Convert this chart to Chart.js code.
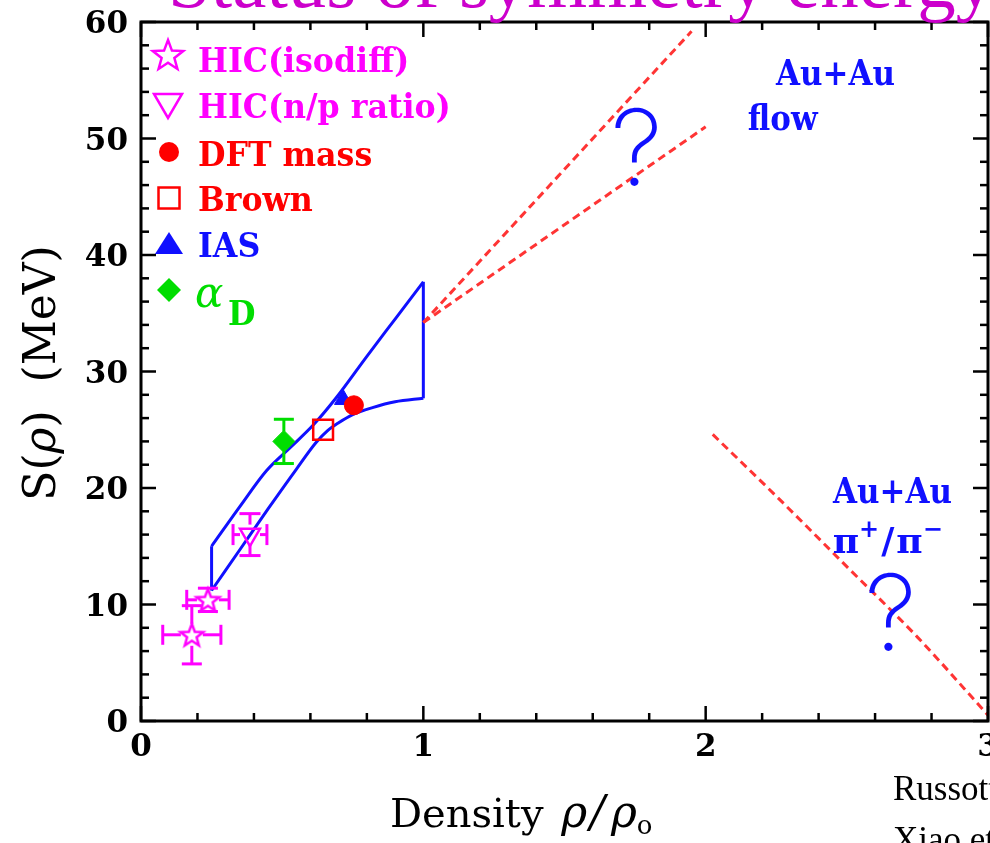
<!DOCTYPE html>
<html>
<head>
<meta charset="utf-8">
<script src="https://cdn.jsdelivr.net/npm/chart.js@4.4.1/dist/chart.umd.min.js"></script>
<style>
  html, body { margin: 0; padding: 0; background: #fff; }
  #wrap { width: 990px; height: 843px; overflow: hidden; }
  canvas { display: block; }
</style>
</head>
<body>
<div id="wrap"><canvas id="chart" width="990" height="843"></canvas></div>
<script>
// ---- Symmetry energy S(rho) constraints ----

// HIC (isospin diffusion)
const isodiffX = [0.18, 0.237];
const isodiffY = [7.4, 10.4];
const isodiffXErr = [0.103, 0.075];
const isodiffYErr = [2.5, 1.0];

// HIC (n/p ratio)
const npRatioX = [0.386];
const npRatioY = [16.0];
const npRatioXErr = [0.06];
const npRatioYErr = [1.8];

// nuclear masses / structure
const dftX = [0.754];
const dftY = [27.1];
const brownX = [0.645];
const brownY = [25.0];
const iasX = [0.716];
const iasY = [27.6];
const alphaDX = [0.506];
const alphaDY = [24.0];
const alphaDYErr = [1.9];

// combined constraint band (upper and lower boundaries)
const bandUpperX = [0.25, 0.35, 0.445, 0.53, 0.61, 0.69, 0.80, 0.90, 1.0];
const bandUpperY = [15.0, 18.4, 21.5, 23.5, 25.4, 27.7, 31.3, 34.5, 37.7];
const bandLowerX = [0.25, 0.35, 0.45, 0.55, 0.62, 0.66, 0.70, 0.75, 0.82, 0.90, 1.0];
const bandLowerY = [11.2, 14.7, 18.2, 21.6, 23.9, 24.9, 25.6, 26.3, 26.9, 27.4, 27.7];

// Au+Au flow extrapolations
const flowUpperX = [1.0, 1.95];
const flowUpperY = [34.2, 59.2];
const flowLowerX = [1.0, 2.0];
const flowLowerY = [34.2, 51.0];

// Au+Au pi+/pi- trend
const pionX = [2.025, 2.25, 2.5, 2.75, 3.0];
const pionY = [24.6, 19.3, 13.25, 7.2, 0.5];

// axis ticks
const xTickValues = [0, 1, 2, 3];
const xTickLabels = ['0', '1', '2', '3'];
const yTickValues = [0, 10, 20, 30, 40, 50, 60];
const yTickLabels = ['0', '10', '20', '30', '40', '50', '60'];

// legend entries
const legendLabels = ['HIC(isodiff)', 'HIC(n/p ratio)', 'DFT mass', 'Brown', 'IAS'];

const MAGENTA = '#ff00ff';
const RED = '#ff0000';
const BLUE = '#1010ff';
const GREEN = '#00dd00';
const DASH_RED = '#ff3434';
const SLAB = "'DejaVu Serif', serif";
const TIMES = "'Liberation Serif', 'Times New Roman', serif";

const toPts = (xs, ys) => xs.map((v, i) => ({ x: v, y: ys[i] }));

const upperPts = toPts(bandUpperX, bandUpperY);
const lowerPts = toPts(bandLowerX, bandLowerY);
const leftEdge = [lowerPts[0], upperPts[0]];
const rightEdge = [lowerPts[lowerPts.length - 1], upperPts[upperPts.length - 1]];

function starPath(ctx, cx, cy, R, r) {
  ctx.beginPath();
  for (let k = 0; k < 10; k++) {
    const ang = -Math.PI / 2 + k * Math.PI / 5;
    const rad = (k % 2) ? r : R;
    const px = cx + rad * Math.cos(ang), py = cy + rad * Math.sin(ang);
    if (k === 0) ctx.moveTo(px, py); else ctx.lineTo(px, py);
  }
  ctx.closePath();
}

function makeStar(R, color, lw) {
  const c = document.createElement('canvas');
  const s = Math.ceil(2 * R + 2 * lw + 2);
  c.width = s; c.height = s;
  const g = c.getContext('2d');
  g.strokeStyle = color; g.lineWidth = lw; g.lineJoin = 'miter';
  starPath(g, s / 2, s / 2 + 1, R, R * 0.42);
  g.stroke();
  return c;
}
const starImage = makeStar(12, MAGENTA, 2.5);

function seg(ctx, x1, y1, x2, y2) {
  ctx.beginPath(); ctx.moveTo(x1, y1); ctx.lineTo(x2, y2); ctx.stroke();
}

function errorBars(ctx, xs, ys, xErr, yErr, sx, sy, gap, cap, color) {
  ctx.save();
  ctx.strokeStyle = color; ctx.lineWidth = 3;
  for (let i = 0; i < xs.length; i++) {
    const px = sx.getPixelForValue(xs[i]);
    const py = sy.getPixelForValue(ys[i]);
    if (yErr && yErr[i]) {
      const t = sy.getPixelForValue(ys[i] + yErr[i]);
      const b = sy.getPixelForValue(ys[i] - yErr[i]);
      if (py - t > gap) seg(ctx, px, py - gap, px, t);
      if (b - py > gap) seg(ctx, px, py + gap, px, b);
      seg(ctx, px - cap / 2, t, px + cap / 2, t);
      seg(ctx, px - cap / 2, b, px + cap / 2, b);
    }
    if (xErr && xErr[i]) {
      const l = sx.getPixelForValue(xs[i] - xErr[i]);
      const r = sx.getPixelForValue(xs[i] + xErr[i]);
      if (px - l > gap) seg(ctx, px - gap, py, l, py);
      if (r - px > gap) seg(ctx, px + gap, py, r, py);
      seg(ctx, l, py - cap / 2, l, py + cap / 2);
      seg(ctx, r, py - cap / 2, r, py + cap / 2);
    }
  }
  ctx.restore();
}

// text drawn piece by piece: [text, font, dy, dx]
function drawRuns(ctx, runs, x, y, color) {
  ctx.fillStyle = color;
  let cx = x;
  for (const [t, f, dy, dx] of runs) {
    cx += dx || 0;
    ctx.font = f;
    ctx.fillText(t, cx, y + (dy || 0));
    cx += ctx.measureText(t).width;
  }
  return cx;
}
function runsWidth(ctx, runs) {
  let w = 0;
  for (const [t, f, , dx] of runs) { ctx.font = f; w += ctx.measureText(t).width + (dx || 0); }
  return w;
}
// horizontally compressed text
function squeezed(ctx, text, x, y, font, color, k, align) {
  ctx.save();
  ctx.scale(k, 1);
  ctx.font = font;
  ctx.fillStyle = color;
  ctx.textAlign = align || 'left';
  ctx.fillText(text, x / k, y);
  ctx.restore();
}

const decor = {
  id: 'decor',
  beforeDraw(chart) {
    const ctx = chart.ctx;
    ctx.save();
    ctx.fillStyle = '#fff';
    ctx.fillRect(0, 0, chart.width, chart.height);
    ctx.restore();
  },
  afterDatasetsDraw(chart) {
    const { ctx, chartArea: a } = chart;
    const sx = chart.scales.x, sy = chart.scales.y;

    // error bars
    ctx.save();
    ctx.beginPath(); ctx.rect(a.left, a.top, a.right - a.left, a.bottom - a.top); ctx.clip();
    errorBars(ctx, isodiffX, isodiffY, isodiffXErr, isodiffYErr, sx, sy, 11, 20, MAGENTA);
    errorBars(ctx, npRatioX, npRatioY, npRatioXErr, npRatioYErr, sx, sy, 10, 21, MAGENTA);
    errorBars(ctx, alphaDX, alphaDY, null, alphaDYErr, sx, sy, 10, 20, GREEN);
    ctx.restore();

    // frame
    ctx.save();
    ctx.strokeStyle = '#000'; ctx.lineWidth = 3;
    ctx.strokeRect(a.left, a.top, a.right - a.left, a.bottom - a.top);

    // inward ticks on all four sides
    ctx.lineWidth = 2.5;
    for (let i = 0; i <= 15; i++) {
      const v = i * 0.2, major = i % 5 === 0;
      const px = sx.getPixelForValue(v), len = major ? 15 : 8;
      seg(ctx, px, a.bottom, px, a.bottom - len);
      seg(ctx, px, a.top, px, a.top + len);
    }
    for (let i = 0; i <= 30; i++) {
      const v = i * 2, major = i % 5 === 0;
      const py = sy.getPixelForValue(v), len = major ? 15 : 8;
      seg(ctx, a.left, py, a.left + len, py);
      seg(ctx, a.right, py, a.right - len, py);
    }

    // tick labels
    ctx.fillStyle = '#000';
    ctx.font = `bold 31px ${SLAB}`;
    ctx.textBaseline = 'alphabetic';
    ctx.textAlign = 'center';
    xTickValues.forEach((v, i) => ctx.fillText(xTickLabels[i], sx.getPixelForValue(v), a.bottom + 35));
    ctx.textAlign = 'right';
    yTickValues.forEach((v, i) => ctx.fillText(yTickLabels[i], a.left - 13, sy.getPixelForValue(v) + 11));
    ctx.textAlign = 'left';

    // x axis title
    const xf = `40px ${SLAB}`, xfi = `italic 44px ${SLAB}`, xfs = `26px ${SLAB}`;
    drawRuns(ctx, [['Density ', xf], ['\u03C1', xfi, 0, 5], ['/', xfi, 0, 3], ['\u03C1', xfi, 0, 6], ['o', xfs, 7, 0]],
      390, 827, '#000');

    // y axis title (rotated)
    ctx.save();
    ctx.translate(55, 373);
    ctx.rotate(-Math.PI / 2);
    const yf = `44px ${SLAB}`, yfi = `italic 44px ${SLAB}`;
    const yRuns = [['S(', yf], ['\u03C1', yfi], [')  (MeV)', yf]];
    drawRuns(ctx, yRuns, -runsWidth(ctx, yRuns) / 2, 0, '#000');
    ctx.restore();

    // legend
    const lf = `bold 33px ${SLAB}`;
    const base = [72, 118, 166, 211, 257];
    const colors = [MAGENTA, MAGENTA, RED, RED, BLUE];
    legendLabels.forEach((t, i) => squeezed(ctx, t, 198, base[i], lf, colors[i], 0.96));
    // legend markers
    ctx.lineWidth = 2.5;
    ctx.strokeStyle = MAGENTA;
    starPath(ctx, 168, 56, 16, 16 * 0.42); ctx.stroke();
    ctx.beginPath(); ctx.moveTo(154, 94); ctx.lineTo(182, 94); ctx.lineTo(168, 118); ctx.closePath(); ctx.stroke();
    ctx.fillStyle = RED;
    ctx.beginPath(); ctx.arc(169, 152, 10, 0, Math.PI * 2); ctx.fill();
    ctx.strokeStyle = RED;
    ctx.strokeRect(158.5, 187.5, 21, 21);
    ctx.fillStyle = BLUE;
    ctx.beginPath(); ctx.moveTo(169, 232); ctx.lineTo(183, 254); ctx.lineTo(155, 254); ctx.closePath(); ctx.fill();
    ctx.fillStyle = GREEN;
    ctx.beginPath(); ctx.moveTo(169, 278); ctx.lineTo(181, 290); ctx.lineTo(169, 302); ctx.lineTo(157, 290); ctx.closePath(); ctx.fill();
    // alpha_D
    ctx.fillStyle = GREEN;
    ctx.font = `italic 42px ${SLAB}`;
    ctx.fillText('\u03B1', 195, 307);
    squeezed(ctx, 'D', 228, 325, lf, GREEN, 0.96);

    // annotations placed in data coordinates
    const af = `bold 36px ${SLAB}`;
    squeezed(ctx, 'Au+Au', sx.getPixelForValue(2.46), sy.getPixelForValue(54.6), af, BLUE, 0.86, 'center');
    squeezed(ctx, 'flow', sx.getPixelForValue(2.149), sy.getPixelForValue(50.7), af, BLUE, 0.86, 'left');
    squeezed(ctx, 'Au+Au', sx.getPixelForValue(2.662), sy.getPixelForValue(18.7), af, BLUE, 0.86, 'center');
    const pf = `bold 36px ${SLAB}`, ps = `bold 24px ${SLAB}`;
    drawRuns(ctx, [['\u03C0', pf], ['+', ps, -16], ['/', pf, 0, 2], ['\u03C0', pf, 0, 2], ['\u2212', ps, -16]],
      sx.getPixelForValue(2.45), sy.getPixelForValue(14.4), BLUE);
    ctx.fillStyle = BLUE;
    ctx.font = `200 106px Inter, Roboto, 'Noto Sans', sans-serif`;
    ctx.textAlign = 'center';
    ctx.fillText('?', sx.getPixelForValue(1.756), sy.getPixelForValue(46.0));
    ctx.fillText('?', sx.getPixelForValue(2.655), sy.getPixelForValue(6.1));
    ctx.textAlign = 'left';

    // title and references
    ctx.fillStyle = '#cc00cc';
    ctx.font = `77px ${TIMES}`;
    ctx.fillText('Status of symmetry energy', 168, 7);
    ctx.fillStyle = '#000';
    ctx.font = `35px ${TIMES}`;
    ctx.fillText('Russotto et al.', 893, 800);
    ctx.fillText('Xiao et al.', 893, 851);
    ctx.restore();
  }
};

const bandLine = { showLine: true, pointRadius: 0, borderColor: BLUE, borderWidth: 3, fill: false, order: 10 };
const dashLine = { showLine: true, pointRadius: 0, borderColor: DASH_RED, borderWidth: 3, borderDash: [8, 5], order: 9 };

new Chart(document.getElementById('chart'), {
  type: 'scatter',
  data: {
    datasets: [
      { label: 'DFT mass', data: toPts(dftX, dftY), pointStyle: 'circle', pointRadius: 9.5,
        backgroundColor: RED, borderColor: RED, borderWidth: 1, order: 0 },
      { label: 'IAS', data: toPts(iasX, iasY), pointStyle: 'triangle', pointRadius: 10,
        backgroundColor: BLUE, borderColor: BLUE, borderWidth: 1, order: 1 },
      { label: 'Brown', data: toPts(brownX, brownY), pointStyle: 'rect', pointRadius: 14,
        backgroundColor: 'rgba(0,0,0,0)', borderColor: RED, borderWidth: 2.5, order: 2 },
      { label: 'alphaD', data: toPts(alphaDX, alphaDY), pointStyle: 'rectRot', pointRadius: 11,
        backgroundColor: GREEN, borderColor: GREEN, borderWidth: 1, order: 3 },
      { label: 'HIC(n/p ratio)', data: toPts(npRatioX, npRatioY), pointStyle: 'triangle', rotation: 180,
        pointRadius: 11.5, backgroundColor: 'rgba(0,0,0,0)', borderColor: MAGENTA, borderWidth: 2.5, order: 4 },
      { label: 'HIC(isodiff)', data: toPts(isodiffX, isodiffY), pointStyle: starImage, pointRadius: 12,
        borderColor: MAGENTA, order: 5 },
      { label: 'band upper', data: upperPts, cubicInterpolationMode: 'monotone', ...bandLine },
      { label: 'band lower', data: lowerPts, cubicInterpolationMode: 'monotone', ...bandLine },
      { label: 'band left', data: leftEdge, ...bandLine },
      { label: 'band right', data: rightEdge, ...bandLine },
      { label: 'flow upper', data: toPts(flowUpperX, flowUpperY), ...dashLine },
      { label: 'flow lower', data: toPts(flowLowerX, flowLowerY), ...dashLine },
      { label: 'pion', data: toPts(pionX, pionY), cubicInterpolationMode: 'monotone', ...dashLine }
    ]
  },
  options: {
    responsive: false,
    animation: false,
    events: [],
    layout: { autoPadding: false, padding: { left: 141, top: 22, right: 2, bottom: 122 } },
    scales: {
      x: { type: 'linear', min: 0, max: 3, display: false },
      y: { type: 'linear', min: 0, max: 60, display: false }
    },
    plugins: { legend: { display: false }, tooltip: { enabled: false } }
  },
  plugins: [decor]
});
</script>
</body>
</html>
